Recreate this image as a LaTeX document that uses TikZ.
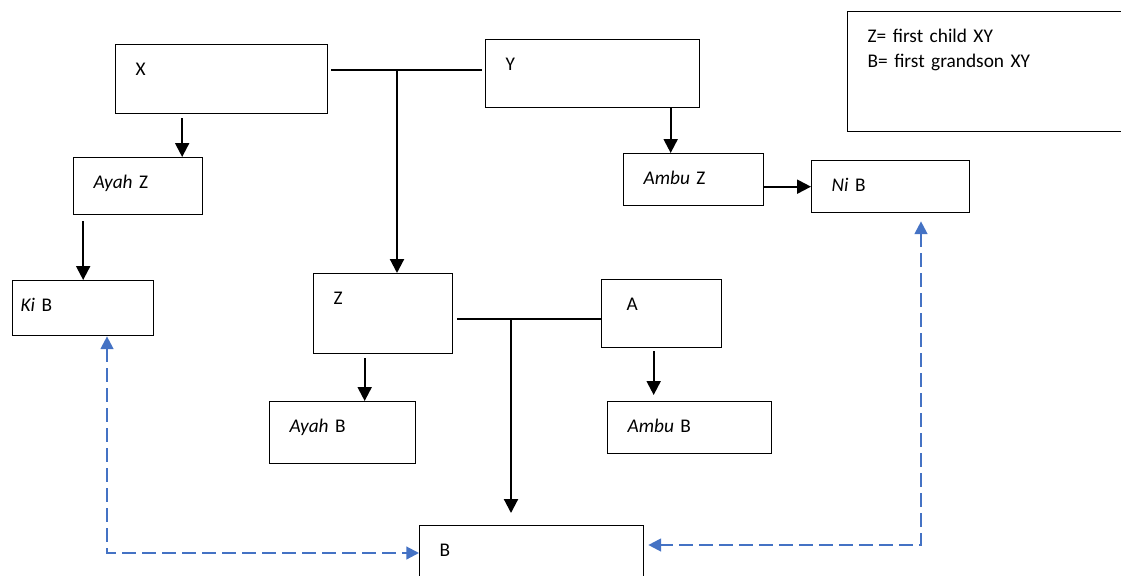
\documentclass[tikz,border=0pt]{standalone}
\usepackage{fontspec}
\setmainfont{Carlito}
\usetikzlibrary{arrows.meta}
\definecolor{linkblue}{HTML}{4472C4}
\tikzstyle{member} = [draw, line width=1pt, anchor=north west, align=left, inner xsep=15pt, inner ysep=0pt, text height=23pt, font=\fontsize{14.5pt}{18.75pt}\selectfont]
\tikzstyle{arrow} = [draw, line width=1.6pt, -{Triangle[length=10.5pt,width=10.5pt]}]
\tikzstyle{line} = [draw, line width=1pt]
\tikzstyle{dlink} = [draw, line width=1.6pt, color=linkblue, dash pattern=on 10pt off 5pt, {Triangle[length=9.5pt,width=9.5pt]}-{Triangle[length=9.5pt,width=9.5pt]}]
\newcommand{\member}[5]{node (#1) [member, text width=#2, text depth=#3, #4] {#5}}

\begin{document}
\begin{tikzpicture}[x=1pt, y=-1pt]
\useasboundingbox (0,0) rectangle (840.75,431.25);
\path (86.25,33) \member{X}{129pt}{28.75pt}{}{X};
\path (363.75,29.25) \member{Y}{130.5pt}{28pt}{}{Y};
\path (635.25,8.25) \member{legend}{180pt}{67pt}{}{Z= first child XY\\B= first grandson XY};
\path (54.75,117.75) \member{ayahZ}{66.75pt}{19.75pt}{}{\textit{Ayah} Z};
\path (467.25,114.75) \member{ambuZ}{75pt}{16pt}{}{\textit{Ambu} Z};
\path (608.25,120) \member{niB}{88.5pt}{16pt}{}{\textit{Ni} B};
\path (9,210) \member{kiB}{93.75pt}{18.25pt}{inner xsep=6pt}{\textit{Ki} B};
\path (234.75,204.75) \member{Z}{74.25pt}{37pt}{}{Z};
\path (450.75,209.25) \member{A}{52.5pt}{28pt}{inner xsep=18.75pt}{A};
\path (201.75,300.75) \member{ayahB}{79.5pt}{23.5pt}{}{\textit{Ayah} B};
\path (455.25,300.75) \member{ambuB}{93pt}{16pt}{}{\textit{Ambu} B};
\path (314.25,393.75) \member{B}{138pt}{37pt}{}{B};

\coordinate (xy) at (297.75,52.5);
\coordinate (za) at (383.25,239.25);
\coordinate (kb) at (80.25,414.75);
\coordinate (nb) at (690.75,408.75);

\path [line, shorten <=2pt, shorten >=2pt] (X.east |- xy) -- (xy -| Y.west);
\path [arrow] (xy) -- (xy |- Z.north);
\path [arrow, shorten <=3pt] ([xshift=33pt]ayahZ.north |- X.south) -- ([xshift=33pt]ayahZ.north);
\path [arrow, shorten <=4.5pt] (ayahZ.south -| kiB.north) -- (kiB.north);
\path [arrow] ([xshift=-17.25pt]ambuZ.north |- Y.south) -- ([xshift=-17.25pt]ambuZ.north);
\path [arrow] (ambuZ.east |- niB.west) -- (niB.west);

\path [line, shorten <=3pt] (Z.east |- za) -- (za -| A.west);
\path [arrow, shorten >=9pt] (za) -- (za |- B.north);
\path [arrow, shorten <=3pt] ([xshift=16.5pt]ayahB.north |- Z.south) -- ([xshift=16.5pt]ayahB.north);
\path [arrow, shorten <=2pt, shorten >=4.5pt] ([xshift=-27pt]ambuB.north |- A.south) -- ([xshift=-27pt]ambuB.north);

\path [dlink] (kb |- kiB.south) -- (kb) -- (kb -| B.west);
\path [dlink, shorten <=6pt, shorten >=3pt] (nb |- niB.south) -- (nb) -- (nb -| B.east);
\end{tikzpicture}
\end{document}
